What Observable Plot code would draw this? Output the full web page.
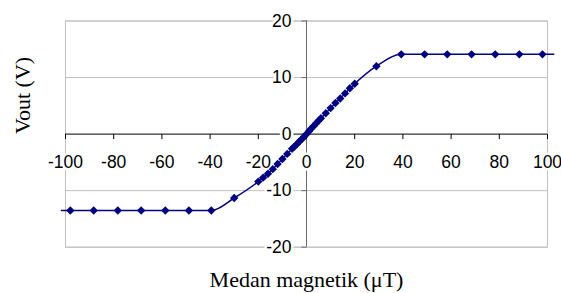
<!DOCTYPE html>
<html>
<head>
<meta charset="utf-8">
<script src="https://cdn.jsdelivr.net/npm/d3@7"></script>
<script src="https://cdn.jsdelivr.net/npm/@observablehq/plot@0.6"></script>
<style>
  html, body { margin: 0; padding: 0; background: white; }
  svg { display: block; }
</style>
</head>
<body>
<div id="chart"></div>
<script>
// Data
const fieldX = [-98, -88.3, -78.3, -68.6, -58.6, -48.8, -39.5, -30,
  -20, -18, -16, -14, -12, -10, -8, -6, -5, -4, -3, -2, -1, 0,
  1, 2, 3, 4, 5, 6, 8, 10, 12, 14, 16, 18, 20,
  29, 39.3, 49, 58.4, 68.5, 78.3, 88.3, 97.9];
const vout = [-13.5, -13.5, -13.5, -13.5, -13.5, -13.5, -13.5, -11.3,
  -8.4, -7.7, -7.0, -6.2, -5.3, -4.4, -3.5, -2.6, -2.2, -1.8, -1.3, -0.9, -0.45, 0,
  0.5, 1.0, 1.45, 1.9, 2.35, 2.8, 3.7, 4.6, 5.5, 6.3, 7.2, 8.1, 8.9,
  12.0, 14.1, 14.1, 14.1, 14.1, 14.1, 14.1, 14.1];
// the smoothed line runs a little past the first and last markers
const lineExtentX = [-101.7, 102.6];

const xTicks = [-100, -80, -60, -40, -20, 0, 20, 40, 60, 80, 100];
const xTickLabels = ["-100", "-80", "-60", "-40", "-20", "0", "20", "40", "60", "80", "100"];
const yTicks = [-20, -10, 0, 10, 20];
const yTickLabels = ["-20", "-10", "0", "10", "20"];
const xTitle = "Medan magnetik (μT)";
const yTitle = "Vout (V)";

const points = fieldX.map((x, i) => ({x, y: vout[i]}));
const linePts = [
  {x: lineExtentX[0], y: vout[0]},
  ...points,
  {x: lineExtentX[1], y: vout[vout.length - 1]}
];
const xTickData = xTicks.map((v, i) => ({v, label: xTickLabels[i]}));
const yTickData = yTicks.map((v, i) => ({v, label: yTickLabels[i]}));

const diamond = {draw(ctx) { const r = 4.2; ctx.moveTo(0, -r); ctx.lineTo(r, 0); ctx.lineTo(0, r); ctx.lineTo(-r, 0); ctx.closePath(); }};
const xTickSym = {draw(ctx) { ctx.moveTo(0, 0); ctx.lineTo(0, 5); }};
const yTickSym = {draw(ctx) { ctx.moveTo(0, 0); ctx.lineTo(-5, 0); }};

const navy = "#000080";
const tickFont = "Liberation Sans, Arial, sans-serif";
const titleFont = "Liberation Serif, Times New Roman, serif";

const chart = Plot.plot({
  width: 561,
  height: 293,
  marginTop: 20.5,
  marginBottom: 46.3,
  marginLeft: 65,
  marginRight: 14,
  x: {domain: [-100, 100], axis: null},
  y: {domain: [-20, 20], axis: null},
  style: {background: "white", fontFamily: tickFont},
  marks: [
    Plot.ruleY(yTicks.filter(d => d !== 0), {stroke: "#c0c0c0", strokeWidth: 1}),
    Plot.frame({stroke: "#c0c0c0"}),
    Plot.ruleY([0], {stroke: "black", strokeWidth: 1}),
    Plot.ruleX([0], {stroke: "#6a6a6a", strokeWidth: 1}),
    Plot.dot(xTickData, {x: "v", y: () => 0, symbol: xTickSym, stroke: "black", fill: "none", strokeWidth: 1}),
    Plot.dot(yTickData, {x: () => 0, y: "v", symbol: yTickSym, stroke: "#6a6a6a", fill: "none", strokeWidth: 1}),
    Plot.text(xTickData, {x: "v", y: () => 0, text: "label", dy: 28.5, fontSize: 17.5, fill: "black",
      stroke: "white", strokeWidth: 5, paintOrder: "stroke", fontFamily: tickFont}),
    Plot.text(yTickData, {x: () => 0, y: "v", text: "label", dx: -15, textAnchor: "end", fontSize: 17.5, fill: "black",
      stroke: "white", strokeWidth: 5, paintOrder: "stroke", fontFamily: tickFont}),
    Plot.line(linePts, {x: "x", y: "y", stroke: navy, strokeWidth: 1.5, curve: "monotone-x"}),
    Plot.dot(points, {x: "x", y: "y", symbol: diamond, fill: navy, stroke: "none"}),
    Plot.text([xTitle], {frameAnchor: "bottom", dy: 40, text: d => d, fontSize: 22, fontFamily: titleFont, fill: "black"}),
    Plot.text([yTitle], {frameAnchor: "left", dx: -43, rotate: -90, text: d => d, fontSize: 22, fontFamily: titleFont, fill: "black"})
  ]
});
document.getElementById("chart").appendChild(chart);
</script>
</body>
</html>
